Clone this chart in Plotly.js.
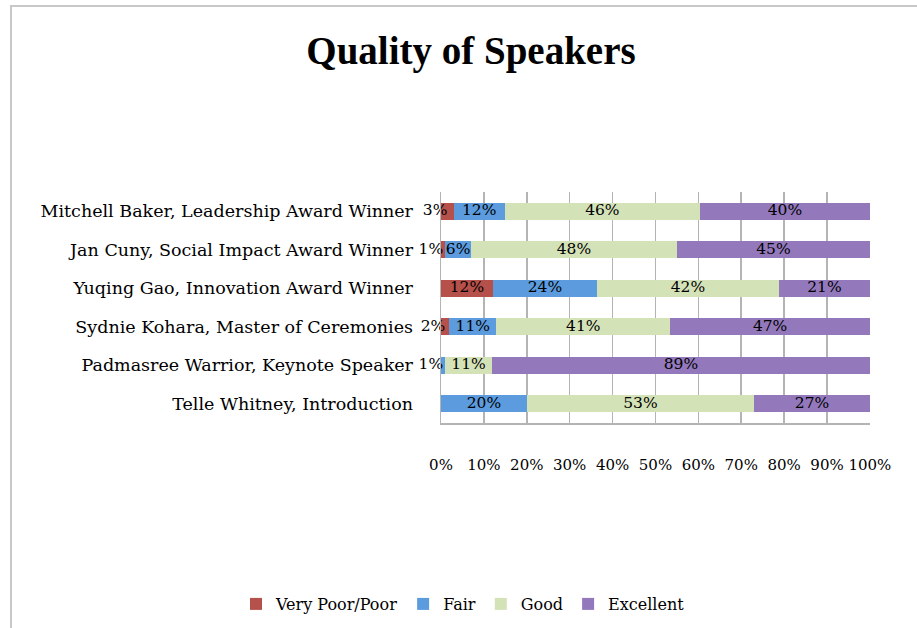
<!DOCTYPE html>
<html>
<head>
<meta charset="utf-8">
<script src="https://cdn.plot.ly/plotly-3.0.1.min.js"></script>
<style>
  html, body { margin: 0; padding: 0; background: #fff; }
  #chart { width: 917px; height: 628px; }
  #frame { position: absolute; left: 10px; top: 5px; width: 907px; height: 623px;
           border-top: 2px solid #c8c8c8; border-left: 2px solid #c8c8c8; pointer-events: none; box-sizing: border-box; }
</style>
</head>
<body>
<div id="chart"></div>
<div id="frame"></div>
<script>
const speakers = [
  "Mitchell Baker, Leadership Award Winner",
  "Jan Cuny, Social Impact Award Winner",
  "Yuqing Gao, Innovation Award Winner",
  "Sydnie Kohara, Master of Ceremonies",
  "Padmasree Warrior, Keynote Speaker",
  "Telle Whitney, Introduction"
];
const seriesNames = ["Very Poor/Poor", "Fair", "Good", "Excellent"];
const veryPoorPoor = [3, 1, 12, 2, null, null];
const fair = [12, 6, 24, 11, 1, 20];
const good = [46, 48, 42, 41, 11, 53];
const excellent = [40, 45, 21, 47, 89, 27];
const tickValues = [0, 10, 20, 30, 40, 50, 60, 70, 80, 90, 100];
const tickLabels = ["0%", "10%", "20%", "30%", "40%", "50%", "60%", "70%", "80%", "90%", "100%"];

const colors = ["#B6504A", "#5B9BDE", "#D4E2B8", "#9379BC"];
const serif = "DejaVu Serif, Liberation Serif, serif";
const allSeries = [veryPoorPoor, fair, good, excellent];

const traces = allSeries.map((vals, i) => ({
  type: "bar",
  orientation: "h",
  name: seriesNames[i],
  y: speakers,
  x: vals,
  textposition: "none",
  marker: { color: colors[i], line: { width: 0 } },
  width: 0.45,
  hoverinfo: "skip"
}));

// data labels drawn on top of all bars, centred on each (normalised) segment;
// labels of very thin segments sit just left of them, as in the reference
const totals = speakers.map((_, r) => allSeries.reduce((s, arr) => s + (arr[r] || 0), 0));
allSeries.forEach((vals) => {
  const xs = [], ys = [], ts = [], pos = [];
  vals.forEach((v, r) => {
    if (v == null) return;
    let before = 0;
    for (const arr of allSeries) { if (arr === vals) break; before += arr[r] || 0; }
    xs.push((before + v / 2) / totals[r] * 100);
    ys.push(speakers[r]);
    ts.push(v + "%");
    pos.push(v <= 3 ? "middle left" : "middle center");
  });
  traces.push({
    type: "scatter",
    mode: "text",
    x: xs, y: ys, text: ts,
    textposition: pos,
    textfont: { family: serif, size: 15.5, color: "#000" },
    showlegend: false,
    hoverinfo: "skip",
    cliponaxis: false
  });
});

const layout = {
  width: 917,
  height: 628,
  paper_bgcolor: "#fff",
  plot_bgcolor: "#fff",
  barmode: "stack",
  barnorm: "percent",
  margin: { l: 441, r: 47, t: 192, b: 205, autoexpand: false },
  title: {
    text: "<b>Quality of Speakers</b>",
    font: { family: "Liberation Serif, serif", size: 39, color: "#000" },
    x: 471 / 917, xref: "container", xanchor: "center",
    y: 1 - 50 / 628, yref: "container", yanchor: "middle"
  },
  xaxis: {
    range: [0, 100.02],
    tickvals: tickValues,
    ticktext: tickLabels,
    tickangle: 0,
    tickfont: { family: serif, size: 15, color: "#000" },
    showgrid: true,
    gridcolor: "#b4b4b4",
    gridwidth: 1.5,
    zeroline: false,
    showline: true,
    linecolor: "#b4b4b4",
    linewidth: 1.5,
    ticks: "",
    ticklabelstandoff: 27,
    fixedrange: true
  },
  yaxis: {
    autorange: "reversed",
    type: "category",
    categoryorder: "array",
    categoryarray: speakers,
    tickfont: { family: serif, size: 17.5, color: "#000" },
    showgrid: false,
    zeroline: false,
    showline: true,
    linecolor: "#b4b4b4",
    linewidth: 1.5,
    ticks: "",
    ticklabelstandoff: 23,
    fixedrange: true
  },
  showlegend: true,
  legend: {
    orientation: "h",
    x: (236 - 441) / 429, xref: "paper", xanchor: "left",
    y: (423 - 604) / 231, yref: "paper", yanchor: "middle",
    font: { family: serif, size: 16, color: "#000" },
    traceorder: "normal",
    itemwidth: 30
  }
};

Plotly.newPlot("chart", traces, layout, { displayModeBar: false, staticPlot: true });
</script>
</body>
</html>
